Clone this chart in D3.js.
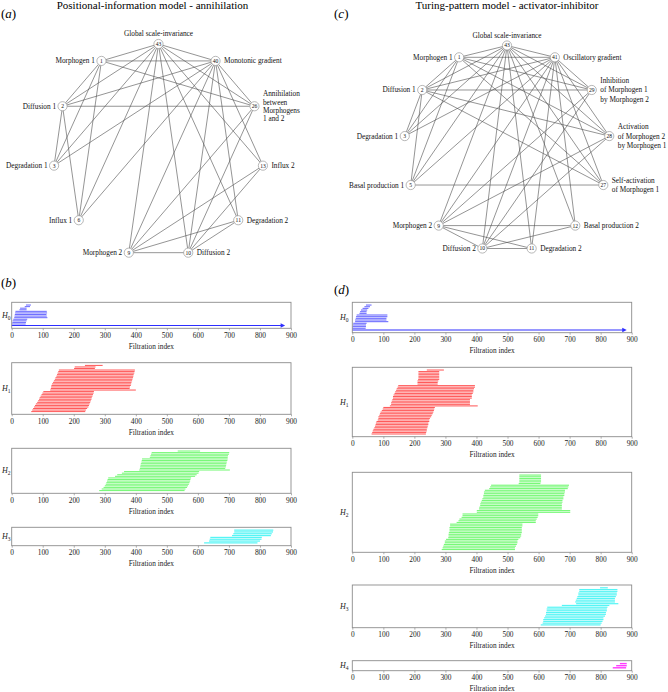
<!DOCTYPE html>
<html><head><meta charset="utf-8">
<script src="https://cdn.jsdelivr.net/npm/d3@7"></script>
<style>
body{margin:0;background:#fff}
svg{display:block}
text{font-family:"Liberation Serif","DejaVu Serif",serif}
</style>
</head><body>
<svg id="chart" width="668" height="692"></svg>
<script>
// ================= DATA =================
const titleA = "Positional-information model - annihilation";
const titleC = "Turing-pattern model - activator-inhibitor";

// graph (a): nodes clockwise from the top
const nodesA = ["43","40","26","13","11","10","9","6","3","2","1"];
const labelsA = [["Global scale-invariance"],["Monotonic gradient"],["Annihilation","between","Morphogens","1 and 2"],["Influx 2"],["Degradation 2"],["Diffusion 2"],["Morphogen 2"],["Influx 1"],["Degradation 1"],["Diffusion 1"],["Morphogen 1"]];
const edgesA = [
  ["43","1"],["43","40"],["43","2"],["43","26"],["43","3"],["43","6"],["43","9"],["43","10"],["43","11"],["43","13"],
  ["40","1"],["40","2"],["40","26"],["40","3"],["40","6"],["40","9"],["40","10"],["40","11"],["40","13"],
  ["1","26"],["1","2"],["1","3"],["1","6"],
  ["2","26"],["2","3"],["2","6"],
  ["26","9"],["26","10"],
  ["9","10"],["9","11"],["9","13"],
  ["10","11"],["10","13"]
];

// graph (c): nodes clockwise from the top
const nodesC = ["43","41","29","28","27","12","11","10","9","5","3","2","1"];
const labelsC = [["Global scale-invariance"],["Oscillatory gradient"],["Inhibition","of Morphogen 1","by Morphogen 2"],["Activation","of Morphogen 2","by Morphogen 1"],["Self-activation","of Morphogen 1"],["Basal production 2"],["Degradation 2"],["Diffusion 2"],["Morphogen 2"],["Basal production 1"],["Degradation 1"],["Diffusion 1"],["Morphogen 1"]];
const edgesC = [
  ["43","1"],["43","41"],["43","2"],["43","29"],["43","3"],["43","28"],["43","5"],["43","27"],["43","9"],["43","12"],["43","10"],["43","11"],
  ["41","1"],["41","2"],["41","29"],["41","3"],["41","28"],["41","5"],["41","27"],["41","9"],["41","12"],["41","10"],["41","11"],
  ["1","2"],["1","3"],["1","5"],["1","27"],["1","28"],["1","29"],
  ["2","3"],["2","5"],["2","27"],["2","28"],["2","29"],
  ["5","27"],
  ["9","10"],["9","11"],["9","12"],["9","28"],["9","29"],
  ["10","11"],["10","12"],["10","28"],["10","29"]
];

// barcode tick labels
const tickValues = [0,100,200,300,400,500,600,700,800,900];
const axisTitle = "Filtration index";

// (b) barcodes  [birth, death], top row first
const barsB_H0 = [[46,62],[42,59],[27,48],[25,48],[12,113],[11,114],[10,112],[9,113],[8,115],[5,50],[3,48],[2,46],[1,45]];
const essentialB = [0,881];
const barsB_H1 = [[236,293],[203,270],[201,268],[152,397],[150,396],[148,395],[146,393],[144,392],[141,391],[139,389],[136,388],[133,386],[130,385],[128,384],[127,381],[126,380],[124,400],[102,265],[99,264],[96,262],[93,260],[90,258],[88,257],[85,255],[82,253],[78,251],[75,249],[72,247],[69,243],[66,239],[63,237]];
const barsB_H2 = [[535,607],[451,701],[449,700],[447,697],[445,696],[420,696],[419,695],[418,693],[416,692],[415,691],[414,690],[413,688],[411,703],[362,604],[355,602],[340,596],[333,591],[311,578],[309,576],[307,575],[305,573],[303,571],[300,568],[296,565],[290,560],[282,557]];
const barsB_H3 = [[717,843],[717,842],[714,838],[710,835],[640,806],[638,805],[636,800],[620,792]];

// (d) barcodes
const barsD_H0 = [[44,62],[39,57],[33,52],[28,48],[25,46],[23,46],[14,113],[12,113],[11,110],[9,110],[9,116],[3,46],[2,44],[1,44],[0,43]];
const essentialD = [0,884];
const barsD_H1 = [[240,295],[213,280],[213,280],[213,280],[213,280],[213,280],[212,280],[210,277],[210,275],[210,275],[148,395],[146,395],[143,392],[141,390],[138,390],[136,388],[133,385],[131,385],[131,385],[129,379],[127,379],[125,379],[125,379],[121,404],[100,266],[98,264],[95,263],[91,261],[89,259],[87,256],[84,254],[84,250],[82,248],[78,248],[76,245],[75,245],[73,243],[71,242],[68,240],[66,240],[64,238],[62,237]];
const barsD_H2 = [[538,608],[538,608],[538,608],[538,608],[538,608],[536,606],[447,698],[444,696],[441,694],[427,685],[424,685],[424,683],[422,683],[422,680],[419,680],[417,677],[414,677],[412,675],[412,675],[409,675],[408,675],[401,702],[401,702],[355,599],[355,599],[352,597],[345,594],[342,591],[336,591],[315,548],[315,548],[313,546],[313,546],[313,546],[311,546],[310,544],[310,544],[309,541],[302,535],[298,532],[298,532],[295,530],[293,527],[291,524],[288,524]];
const barsD_H3 = [[798,823],[731,854],[731,854],[728,852],[728,852],[725,849],[723,846],[720,846],[718,846],[721,857],[675,828],[628,822],[626,820],[626,820],[624,817],[624,817],[621,814],[618,809],[615,809],[615,806],[613,803],[607,800]];
const barsD_H4 = [[862,884],[850,884],[839,882]];

// ================= DRAWING =================
const svg = d3.select("#chart");
const SERIF = '"Liberation Serif","DejaVu Serif",serif';

function panelLetter(x, y, letter){
  const t = svg.append("text").attr("x",x).attr("y",y).attr("font-size",13);
  t.append("tspan").text("(");
  t.append("tspan").attr("font-style","italic").text(letter);
  t.append("tspan").text(")");
}

function drawGraph(nodes, labels, edges, cx, cy, rx, ry, lineH){
  const g = svg.append("g");
  const ang = d3.scaleLinear().domain([0, nodes.length]).range([0, 2*Math.PI]);
  const pos = {};
  nodes.forEach((id,i)=>{ const a = ang(i); pos[id] = {x: cx + rx*Math.sin(a), y: cy - ry*Math.cos(a)}; });
  g.selectAll("line").data(edges).join("line")
    .attr("x1",d=>pos[d[0]].x).attr("y1",d=>pos[d[0]].y)
    .attr("x2",d=>pos[d[1]].x).attr("y2",d=>pos[d[1]].y)
    .attr("stroke","#4d4d4d").attr("stroke-width",0.6);
  const ng = g.selectAll("g.node").data(nodes).join("g").attr("class","node")
    .attr("transform",d=>`translate(${pos[d].x},${pos[d].y})`);
  ng.append("circle").attr("r",4.6).attr("fill","#fff").attr("stroke","#9a9a9a").attr("stroke-width",0.7);
  ng.append("text").text(d=>d).attr("text-anchor","middle").attr("dy","0.35em")
    .attr("font-size",5.6).attr("fill","#111");
  nodes.forEach((id,i)=>{
    const p = pos[id], lines = labels[i];
    let anchor, x, yc;
    if(i===0){ anchor="middle"; x=p.x; yc=p.y-10.5; }
    else if(p.x > cx){ anchor="start"; x=p.x+8.5; yc=p.y; }
    else { anchor="end"; x=p.x-6.5; yc=p.y; }
    lines.forEach((ln,k)=>{
      g.append("text").attr("x",x).attr("y", yc + 2.5 + (k-(lines.length-1)/2)*lineH)
        .attr("text-anchor",anchor).attr("font-size",7.3).attr("fill","#111").text(ln);
    });
  });
}

function drawBarcode(bars, essential, color, x0, x1, top, bottom, hdeg){
  const g = svg.append("g");
  const rows = essential ? bars.concat([essential]) : bars;
  const xs = d3.scaleLinear().domain([0,900]).range([x0,x1]);
  const ys = d3.scaleBand().domain(d3.range(rows.length)).range([top+2.2, bottom-2.2]).paddingInner(0.33);
  const bh = Math.max(ys.bandwidth(), 0.9);
  g.selectAll("rect.bar").data(bars).join("rect").attr("class","bar")
    .attr("x",d=>xs(d[0])).attr("width",d=>xs(d[1])-xs(d[0]))
    .attr("y",(d,i)=>ys(i)+ys.bandwidth()/2-bh/2).attr("height",bh)
    .attr("fill",color);
  if(essential){
    const yy = ys(rows.length-1)+ys.bandwidth()/2;
    const xe = xs(essential[1]);
    g.append("line").attr("x1",xs(essential[0])).attr("x2",xe-3).attr("y1",yy).attr("y2",yy)
      .attr("stroke","#2e2eff").attr("stroke-width",1.1);
    g.append("path").attr("d",`M${xe},${yy} L${xe-4.5},${yy-2.2} L${xe-4.5},${yy+2.2} Z`).attr("fill","#2e2eff");
  }
  g.append("rect").attr("x",x0).attr("y",top).attr("width",x1-x0).attr("height",bottom-top)
    .attr("fill","none").attr("stroke","#8c8c8c").attr("stroke-width",0.9);
  const ax = d3.axisBottom(xs).tickValues(tickValues).tickSize(2).tickPadding(2.5).tickFormat(d3.format("d"));
  const axg = g.append("g").attr("transform",`translate(0,${bottom})`).call(ax)
    .attr("font-family",SERIF).attr("font-size",7.4);
  axg.select(".domain").remove();
  axg.selectAll("line").attr("stroke","#8c8c8c").attr("stroke-width",0.7);
  axg.selectAll("text").attr("fill","#222");
  g.append("text").attr("x",(x0+x1)/2).attr("y",bottom+20.5).attr("text-anchor","middle")
    .attr("font-size",7.3).attr("fill","#222").text(axisTitle);
  const lx = x0 < 100 ? 2 : 340;
  const ht = g.append("text").attr("x",lx).attr("y",(top+bottom)/2+2.5).attr("font-size",8).attr("fill","#222");
  ht.append("tspan").attr("font-style","italic").text("H");
  ht.append("tspan").attr("dy",2).attr("font-size",5.5).text(hdeg);
}

// titles and panel letters
svg.append("text").attr("x",152.5).attr("y",8.5).attr("text-anchor","middle").attr("font-size",11).text(titleA);
svg.append("text").attr("x",507).attr("y",8.5).attr("text-anchor","middle").attr("font-size",11).text(titleC);
panelLetter(1,18,"a");
panelLetter(334,18,"c");
panelLetter(1,287,"b");
panelLetter(334,294,"d");

drawGraph(nodesA, labelsA, edgesA, 158.5, 150.5, 105.5, 106.5, 8.4);
drawGraph(nodesC, labelsC, edgesC, 507, 148.5, 103, 103, 9.5);

// (b)
const bx0 = 11.7, bx1 = 291;
drawBarcode(barsB_H0, essentialB, "#6f6fff", bx0, bx1, 302.3, 328.3, "0");
drawBarcode(barsB_H1, null, "#ff5a5a", bx0, bx1, 362.7, 414.3, "1");
drawBarcode(barsB_H2, null, "#78f878", bx0, bx1, 448.3, 493.3, "2");
drawBarcode(barsB_H3, null, "#55f5f5", bx0, bx1, 527.3, 545.7, "3");
// (d)
const dx0 = 352.3, dx1 = 631.7;
drawBarcode(barsD_H0, essentialD, "#6f6fff", dx0, dx1, 302.3, 332.7, "0");
drawBarcode(barsD_H1, null, "#ff5a5a", dx0, dx1, 367.3, 436.7, "1");
drawBarcode(barsD_H2, null, "#78f878", dx0, dx1, 472.3, 552.3, "2");
drawBarcode(barsD_H3, null, "#55f5f5", dx0, dx1, 585, 627.7, "3");
drawBarcode(barsD_H4, null, "#ff3cff", dx0, dx1, 660.7, 670.7, "4");
</script>
</body></html>
